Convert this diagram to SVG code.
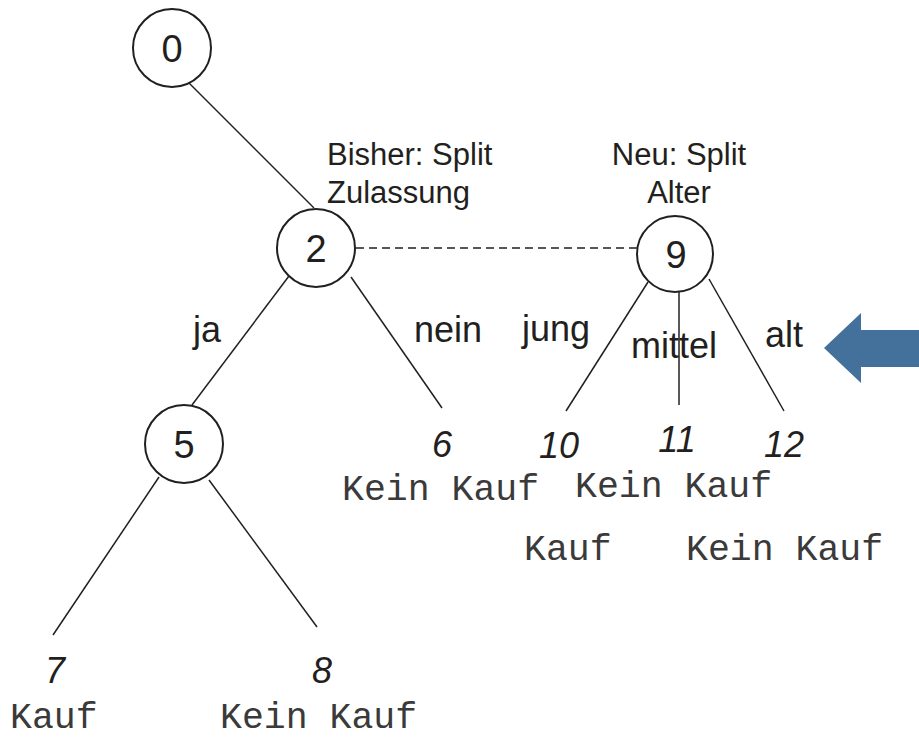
<svg xmlns="http://www.w3.org/2000/svg" width="919" height="740" viewBox="0 0 919 740">
<style>
.node circle{fill:#fff;stroke:#231f20;stroke-width:2}
.nid{font-family:"Liberation Sans",Arial,sans-serif;font-size:38px;fill:#231f20;text-anchor:middle}
.leaf{font-family:"Liberation Sans",Arial,sans-serif;font-size:36px;font-style:italic;fill:#231f20;text-anchor:middle}
.edge{font-family:"Liberation Sans",Arial,sans-serif;font-size:36px;fill:#231f20}
.note{font-family:"Liberation Sans",Arial,sans-serif;font-size:31px;fill:#231f20}
.mono{font-family:"Liberation Mono","Courier New",monospace;font-size:36.5px;fill:#3a3a3a}
.conn line{stroke:#231f20;stroke-width:1.5}
</style>
<rect width="919" height="740" fill="#fff"/>
<g id="connectors" class="conn">
<line x1="189" y1="83" x2="314" y2="208"/>
<line x1="289" y1="276" x2="192" y2="405"/>
<line x1="351" y1="277" x2="442" y2="408"/>
<line x1="159" y1="477" x2="53" y2="635"/>
<line x1="209" y1="480" x2="317" y2="627"/>
<line x1="648" y1="282" x2="566" y2="411"/>
<line x1="679" y1="292" x2="679" y2="405"/>
<line x1="709" y1="279" x2="784" y2="411"/>
<line x1="356" y1="248" x2="637" y2="248" stroke-dasharray="8 5"/>
</g>
<g id="edge-labels">
<text class="edge" x="193" y="342">ja</text>
<text class="edge" x="414" y="342">nein</text>
<text class="edge" x="522" y="341">jung</text>
<text class="edge" x="631" y="358">mittel</text>
<text class="edge" x="765" y="347">alt</text>
</g>
<g id="node0" class="node"><circle cx="172" cy="48" r="39"/><text class="nid" x="172" y="62">0</text></g>
<g id="node2" class="node"><circle cx="316" cy="248" r="39"/><text class="nid" x="316" y="262">2</text></g>
<g id="node5" class="node"><circle cx="184" cy="444" r="39"/><text class="nid" x="184" y="458">5</text></g>
<g id="node9" class="node"><circle cx="675" cy="254" r="38"/><text class="nid" x="676" y="268">9</text></g>
<g id="note2"><text class="note" x="327" y="165">Bisher: Split</text><text class="note" x="327" y="203">Zulassung</text></g>
<g id="note9"><text class="note" x="679" y="165" text-anchor="middle">Neu: Split</text><text class="note" x="679" y="203" text-anchor="middle">Alter</text></g>
<g id="leaf6"><text class="leaf" x="442" y="457">6</text><text class="mono" x="342" y="500">Kein Kauf</text></g>
<g id="leaf7"><text class="leaf" x="55" y="683">7</text><text class="mono" x="10" y="728">Kauf</text></g>
<g id="leaf8"><text class="leaf" x="322" y="683">8</text><text class="mono" x="220" y="728">Kein Kauf</text></g>
<g id="leaf10"><text class="leaf" x="559" y="458">10</text><text class="mono" x="524" y="560">Kauf</text></g>
<g id="leaf11"><text class="leaf" x="677" y="452">11</text><text class="mono" x="575" y="497">Kein Kauf</text></g>
<g id="leaf12"><text class="leaf" x="784" y="457">12</text><text class="mono" x="686" y="560">Kein Kauf</text></g>
<g id="arrow"><polygon points="824,348 861,313 861,330 919,330 919,367 861,367 861,383" fill="#44719c"/></g>
</svg>
